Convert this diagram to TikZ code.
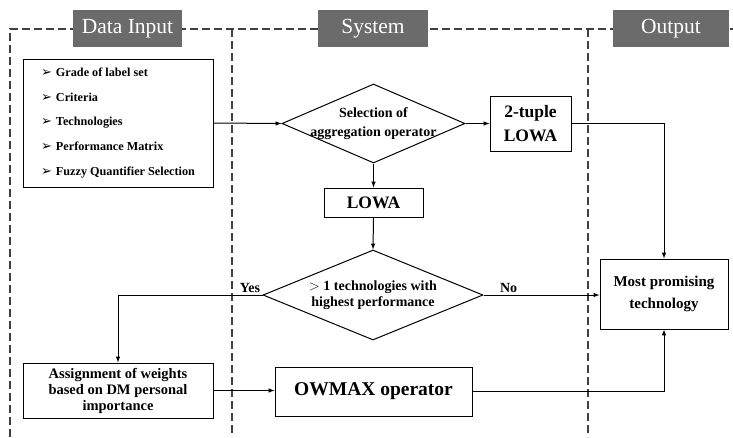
\documentclass[tikz,border=0pt]{standalone}
\usepackage{fontspec}
\setmainfont{Liberation Serif}
\newfontfamily\symfont{DejaVu Sans}
\usetikzlibrary{shapes.geometric, arrows, positioning}
\tikzstyle{header} = [rectangle, fill=black!58, text=white, font=\fontsize{21.5}{24}\selectfont, minimum height=37pt, inner sep=0pt]
\tikzstyle{lane} = [line width=1.3pt, black!75, dash pattern=on 8pt off 4pt]
\tikzstyle{process} = [rectangle, draw=black, line width=1pt, align=center, inner sep=0pt]
\tikzstyle{decision} = [diamond, draw=black, line width=1pt, inner sep=0pt]
\tikzstyle{dtext} = [align=center, font=\bfseries\fontsize{14}{16}\selectfont, inner sep=0pt]
\tikzstyle{arrow} = [line width=1pt, ->, >=latex]
\newcommand{\bul}{{\symfont\fontsize{13}{13}\selectfont ➢}\hspace{4pt}}

\begin{document}
\begin{tikzpicture}[x=1pt, y=-1pt]
    \useasboundingbox (0,0) rectangle (733,437);
    % Lanes
    \draw[lane] (10,437) -- (10,29) -- (733,29);
    \draw[lane] (232,29) -- (232,437);
    \draw[lane] (588,29) -- (588,437);
    \node[header, minimum width=109pt] (hin) at (127.5,28.5) {Data Input};
    \node[header, minimum width=110pt] (hsys) at (373,28.5) {System};
    \node[header, minimum width=116pt] (hout) at (671,28.5) {Output};

    % Data input
    \node[process, minimum width=190pt, minimum height=128pt, align=left, font=\bfseries\fontsize{12.2}{24.8}\selectfont] (inp) at (118,123) {\bul Grade of label set\\ \bul Criteria\\ \bul Technologies\\ \bul Performance Matrix\\ \bul Fuzzy Quantifier Selection};
    \node[process, minimum width=190pt, minimum height=55pt, font=\bfseries\fontsize{14.5}{16}\selectfont] (asg) at (118,390.5) {Assignment of weights\\based on DM personal\\importance};

    % System
    \node[decision, minimum width=183pt, minimum height=79pt] (sel) at (373.5,123.5) {};
    \node[dtext, font=\bfseries\fontsize{14}{19}\selectfont] (selt) at (sel) {Selection of\\aggregation operator};
    \node[process, minimum width=81pt, minimum height=55pt, font=\bfseries\fontsize{17.5}{24}\selectfont] (two) at (530.5,123.5) {2-tuple\\LOWA};
    \node[process, minimum width=99pt, minimum height=29pt, font=\bfseries\fontsize{17.5}{19}\selectfont] (lowa) at (373.5,202.5) {LOWA};
    \node[decision, minimum width=220pt, minimum height=90pt] (hp) at (373,295) {};
    \node[dtext] (hpt) at (hp) {$>$ 1 technologies with\\highest performance};
    \node[process, minimum width=197pt, minimum height=49pt, font=\bfseries\fontsize{19.5}{22}\selectfont] (owm) at (373.5,391.5) {OWMAX operator};

    % Output
    \node[process, minimum width=128pt, minimum height=70pt, font=\bfseries\fontsize{15}{22}\selectfont] (best) at (664,294) {Most promising\\technology};

    % Flow
    \draw[arrow] (inp.east) -- (sel.west);
    \draw[arrow] (sel.east) -- (two.west);
    \draw[arrow] (sel.south) -- (lowa.north);
    \draw[arrow] (lowa.south) -- (hp.north);
    \draw[arrow] (two.east) -| (best.north);
    \draw[arrow] (hp.west) -| (asg.north) node[pos=0, above left, inner sep=2pt, font=\bfseries\fontsize{14}{16}\selectfont] {Yes};
    \draw[arrow] (hp.east) -- (hp.east -| best.west) node[pos=0, above right, xshift=14pt, inner sep=2pt, font=\bfseries\fontsize{14}{16}\selectfont] {No};
    \draw[arrow] (asg.east) -- (asg.east -| owm.west);
    \draw[arrow] (owm.east) -| (best.south);
\end{tikzpicture}
\end{document}
